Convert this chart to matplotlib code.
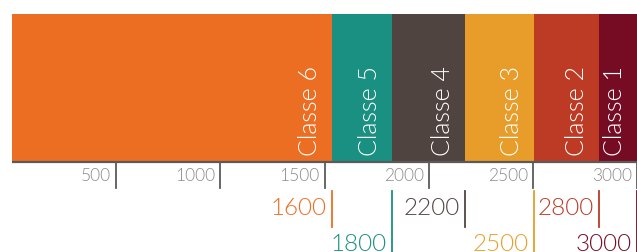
import matplotlib
matplotlib.use("Agg")
import matplotlib.pyplot as plt
import numpy as np

# Data
classes = ["Classe 6", "Classe 5", "Classe 4", "Classe 3", "Classe 2", "Classe 1"]
bounds = [1535, 1823, 2175, 2506, 2818, 3000]          # right edge of each class segment
threshold_labels = ["1600", "1800", "2200", "2500", "2800", "3000"]
colors = ["#EC6E22", "#1A9083", "#4F4440", "#E89D2A", "#BD3A25", "#750C24"]
axis_ticks = [500, 1000, 1500, 2000, 2500, 3000]

FONT = ["Lato", "DejaVu Sans"]
plt.rcParams['font.family'] = FONT
WEIGHT = 300

W, H = 637, 253
fig = plt.figure(figsize=(W / 100, H / 100), dpi=100)
x0 = 12
ax = fig.add_axes([x0 / W, 0, (W - x0) / W, 1])
ax.set_xlim(0, 3000)
ax.set_ylim(H, 0)   # y in pixel-like units, top = 0
ax.axis("off")

lefts = [0] + bounds[:-1]
widths = np.array(bounds) - np.array(lefts)
bar_top, bar_bot = 15, 162
ax.barh((bar_top + bar_bot) / 2, widths, left=lefts, height=bar_bot - bar_top,
        color=colors, edgecolor="none")

px = 3000 / (W - x0)  # data units per pixel

# class labels
for name, r in zip(classes, bounds):
    ax.text(r - 10 * px, 156, name, rotation=90, ha="right", va="bottom",
            color="white", fontsize=18, fontweight=WEIGHT)

# axis line
ax.plot([0, 3000], [163, 163], color="#5a5a5a", lw=1.6, solid_capstyle="butt")

# axis ticks
for t in axis_ticks:
    ax.plot([t, t], [164, 189], color="#5a5a5a", lw=1.3)
    ax.text(t - 5 * px, 176, str(t), ha="right", va="center", color="#8a8a8a",
            fontsize=12.5, fontweight=WEIGHT)

# threshold markers
for i, (lab, r, c) in enumerate(zip(threshold_labels, bounds, colors)):
    if i % 2 == 0:
        y_end, ty = 228, 209
    else:
        y_end, ty = 253, 245
    ax.plot([r, r], [192, y_end], color=c, lw=1.3)
    ax.text(r - 5 * px, ty, lab, ha="right", va="center", color=c,
            fontsize=17.5, fontweight=WEIGHT)

fig.savefig("out.png", dpi=100)
